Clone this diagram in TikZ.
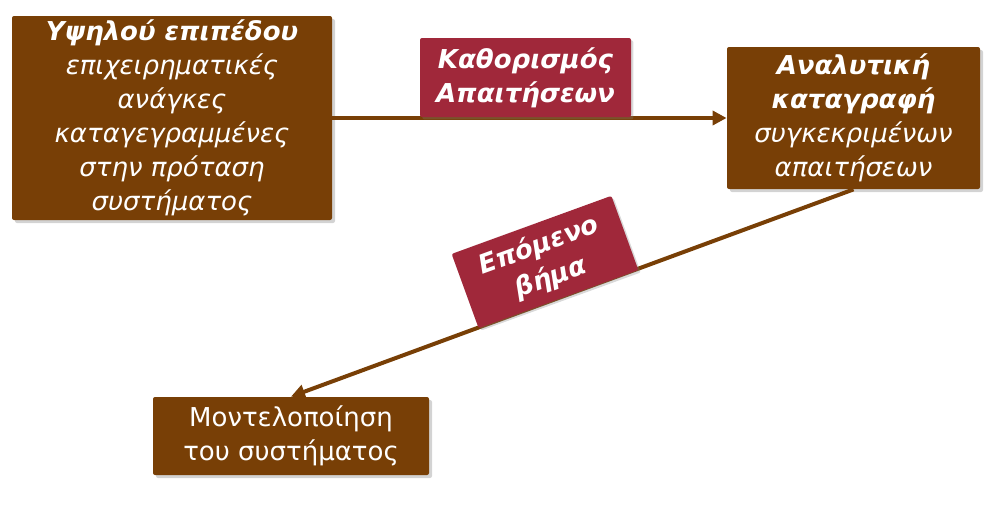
\documentclass[tikz,border=0pt]{standalone}
\usepackage{fontspec}
\setmainfont{DejaVu Sans}
\usetikzlibrary{arrows.meta}
\usetikzlibrary{shadows}
\definecolor{boxbrown}{RGB}{120,63,6}
\definecolor{tagred}{RGB}{160,40,58}

\begin{document}
\begin{tikzpicture}[
  x=0.5pt, y=-0.5pt,
  every node/.style={font=\fontsize{13}{17}\selectfont, text=white, align=center, inner sep=0pt},
  box/.style={fill=boxbrown, rounded corners=1pt,
    drop shadow={shadow xshift=1.5pt, shadow yshift=-1.5pt, opacity=0.35}},
  tag/.style={fill=tagred, rounded corners=1pt, font=\fontsize{13}{17}\selectfont\bfseries\itshape,
    drop shadow={shadow xshift=1.2pt, shadow yshift=-1.2pt, opacity=0.3}},
  link/.style={draw=boxbrown, line width=2pt, -{Triangle[length=7pt,width=7pt]}}
]
\useasboundingbox (0,0) rectangle (990,515);
\node[box, minimum width=160pt, minimum height=102pt] (high) at (172,118)
  {\textbf{\textit{Υψηλού επιπέδου}}\\ \textit{επιχειρηματικές}\\ \textit{ανάγκες}\\
   \textit{καταγεγραμμένες}\\ \textit{στην πρόταση}\\ \textit{συστήματος}};
\node[box, minimum width=126.5pt, minimum height=71pt] (detail) at (853.5,118)
  {\textbf{\textit{Αναλυτική}}\\ \textbf{\textit{καταγραφή}}\\ \textit{συγκεκριμένων}\\ \textit{απαιτήσεων}};
\node[box, minimum width=138pt, minimum height=39pt] (model) at (291,436)
  {Μοντελοποίηση\\ του συστήματος};
\draw[link] (high.east) -- (detail.west);
\draw[link] (detail.south) -- (model.north);
\node[tag, minimum width=105.5pt, minimum height=39.5pt] (define) at (525.5,77.5)
  {Καθορισμός\\ Απαιτήσεων};
\node[tag, minimum width=85pt, minimum height=39.5pt, rotate=20] (next) at (545,262)
  {Επόμενο\\ βήμα};
\end{tikzpicture}
\end{document}
